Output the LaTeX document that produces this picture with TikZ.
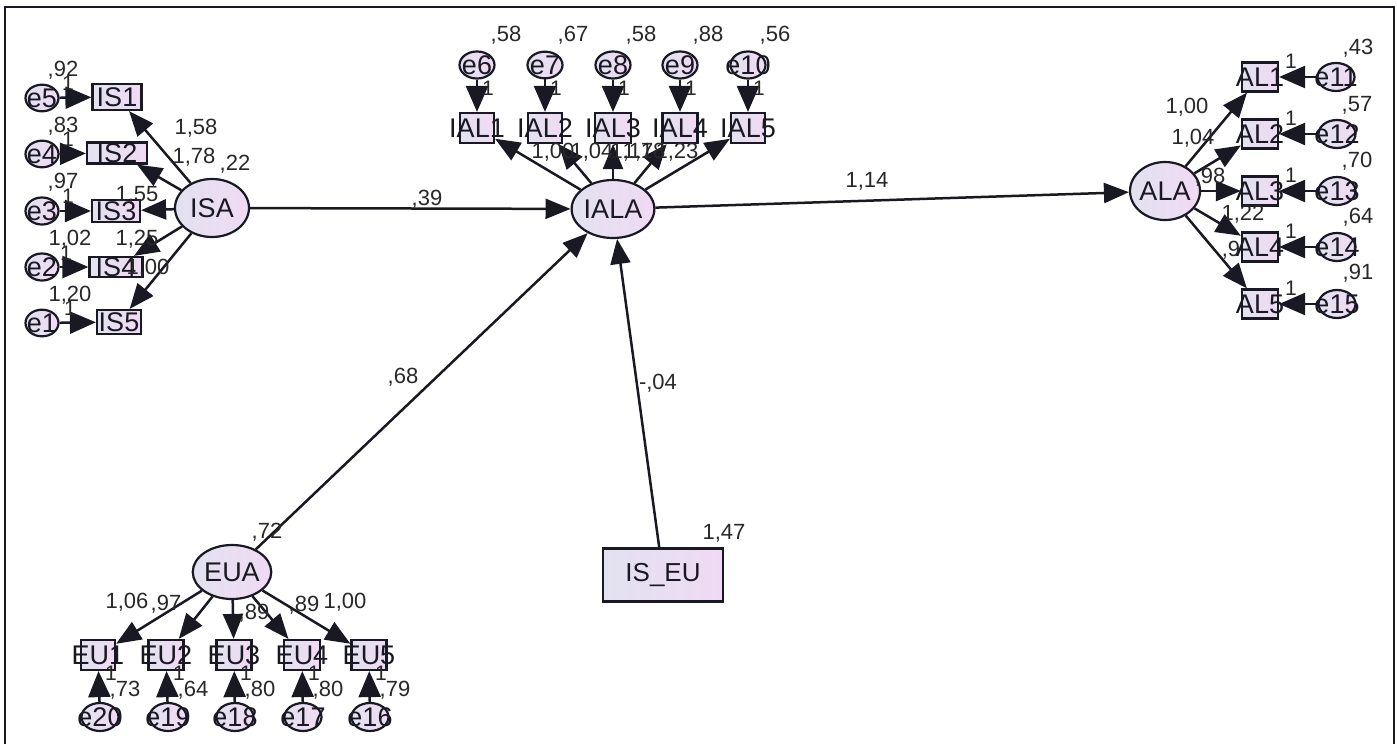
\documentclass[tikz,border=0pt]{standalone}
\usepackage{fontspec}
\setmainfont{Liberation Sans}
\usetikzlibrary{shapes.geometric,arrows.meta}
\definecolor{lavL}{RGB}{226,226,240}
\definecolor{lavR}{RGB}{240,218,243}
\definecolor{lbl}{RGB}{40,40,40}
\definecolor{ink}{RGB}{25,25,35}
\newcommand{\ov}[1]{\makebox[0pt]{#1}}
\begin{document}
\begin{tikzpicture}[x=1pt,y=-1pt,
  lat/.style={ellipse,draw=ink,line width=2.2pt,inner sep=0pt,left color=lavL,right color=lavR,text=ink,font=\fontsize{27}{29}\selectfont},
  errv/.style={ellipse,draw=ink,line width=2.2pt,inner sep=0pt,minimum width=33pt,minimum height=26pt,left color=lavL,right color=lavR,text=ink,font=\fontsize{27}{28}\selectfont},
  obs/.style={rectangle,draw=ink,line width=2.2pt,inner sep=0pt,left color=lavL,right color=lavR,text=ink,font=\fontsize{27}{29}\selectfont},
  conn/.style={draw=ink,line width=2.5pt,-{Triangle[length=25pt,width=20pt]}},
  errarr/.style={draw=ink,line width=2.5pt,-{Triangle[length=26pt,width=22pt]}},
  lab/.style={text=lbl,inner sep=0pt,font=\fontsize{22}{24}\selectfont},
  one/.style={text=lbl,inner sep=0pt,font=\fontsize{21}{23}\selectfont}
]
\useasboundingbox (0,0) rectangle (1397,744);
\draw[line width=2.8pt,ink] (5,744) -- (5,7) -- (1394,7) -- (1394,744);

% ---------- latent variables ----------
\node[lat,minimum width=74pt,minimum height=58pt] (ISA) at (212,208) {ISA};
\node[lat,minimum width=72pt,minimum height=58pt] (IALA) at (613,209) {IALA};
\node[lat,minimum width=70pt,minimum height=58pt] (ALA) at (1165,191) {\ov{ALA}};
\node[lat,minimum width=70pt,minimum height=54pt] (EUA) at (232,572) {EUA};
\node[obs,minimum width=120pt,minimum height=53pt,font=\fontsize{26}{28}\selectfont] (ISEU) at (663,575) {IS\_EU};

% ---------- ISA indicators ----------
\node[obs,minimum width=49pt,minimum height=26pt] (IS1) at (117,97) {\ov{IS1}};
\node[obs,minimum width=60pt,minimum height=21pt] (IS2) at (117,153) {\ov{IS2}};
\node[obs,minimum width=48pt,minimum height=22pt] (IS3) at (116,211) {\ov{IS3}};
\node[obs,minimum width=53pt,minimum height=20pt] (IS4) at (116,267) {\ov{IS4}};
\node[obs,minimum width=44pt,minimum height=24pt] (IS5) at (119,322) {\ov{IS5}};
\node[errv] (e5) at (42,98) {\ov{e5}};
\node[errv] (e4) at (42,154) {\ov{e4}};
\node[errv] (e3) at (42,211) {\ov{e3}};
\node[errv] (e2) at (42,267) {\ov{e2}};
\node[errv] (e1) at (42,323) {\ov{e1}};

% ---------- IALA indicators ----------
\node[obs,minimum width=34pt,minimum height=30pt] (IAL1) at (477,128) {\ov{IAL1}};
\node[obs,minimum width=34pt,minimum height=30pt] (IAL2) at (545,128) {\ov{IAL2}};
\node[obs,minimum width=36pt,minimum height=30pt] (IAL3) at (613,128) {\ov{IAL3}};
\node[obs,minimum width=35pt,minimum height=30pt] (IAL4) at (680,128) {\ov{IAL4}};
\node[obs,minimum width=34pt,minimum height=30pt] (IAL5) at (748,128) {\ov{IAL5}};
\node[errv,minimum width=35pt] (e6) at (477,65) {\ov{e6}};
\node[errv,minimum width=35pt] (e7) at (545,65) {\ov{e7}};
\node[errv,minimum width=35pt] (e8) at (613,65) {\ov{e8}};
\node[errv,minimum width=35pt] (e9) at (680,65) {\ov{e9}};
\node[errv,minimum width=35pt] (e10) at (748,65) {\ov{e10}};

% ---------- ALA indicators ----------
\node[obs,minimum width=36pt,minimum height=29pt] (AL1) at (1260,77) {\ov{AL1}};
\node[obs,minimum width=36pt,minimum height=29pt] (AL2) at (1260,134) {\ov{AL2}};
\node[obs,minimum width=36pt,minimum height=29pt] (AL3) at (1260,191) {\ov{AL3}};
\node[obs,minimum width=36pt,minimum height=29pt] (AL4) at (1260,247) {\ov{AL4}};
\node[obs,minimum width=36pt,minimum height=29pt] (AL5) at (1260,304) {\ov{AL5}};
\node[errv,minimum width=37pt,minimum height=28pt] (e11) at (1336,77) {\ov{e11}};
\node[errv,minimum width=37pt,minimum height=28pt] (e12) at (1337,134) {\ov{e12}};
\node[errv,minimum width=37pt,minimum height=28pt] (e13) at (1337,191) {\ov{e13}};
\node[errv,minimum width=37pt,minimum height=28pt] (e14) at (1337,247) {\ov{e14}};
\node[errv,minimum width=37pt,minimum height=28pt] (e15) at (1337,304) {\ov{e15}};

% ---------- EUA indicators ----------
\node[obs,minimum width=34pt,minimum height=30pt] (EU1) at (98,655) {\ov{EU1}};
\node[obs,minimum width=35pt,minimum height=30pt] (EU2) at (166,655) {\ov{EU2}};
\node[obs,minimum width=35pt,minimum height=30pt] (EU3) at (234,655) {\ov{EU3}};
\node[obs,minimum width=36pt,minimum height=30pt] (EU4) at (302,655) {\ov{EU4}};
\node[obs,minimum width=35pt,minimum height=30pt] (EU5) at (369,655) {\ov{EU5}};
\node[errv,minimum width=37pt,minimum height=28pt] (e20) at (100,717) {\ov{e20}};
\node[errv,minimum width=37pt,minimum height=28pt] (e19) at (168,717) {\ov{e19}};
\node[errv,minimum width=37pt,minimum height=28pt] (e18) at (235,717) {\ov{e18}};
\node[errv,minimum width=37pt,minimum height=28pt] (e17) at (303,717) {\ov{e17}};
\node[errv,minimum width=37pt,minimum height=28pt] (e16) at (370,717) {\ov{e16}};

% ---------- structural paths ----------
\draw[conn] (ISA) -- (IALA);
\draw[conn] (IALA) -- (ALA);
\draw[conn] (EUA) -- (IALA);
\draw[conn] (ISEU) -- (IALA);

% ---------- loadings ----------
\foreach \t in {IS1,IS2,IS3,IS4,IS5} \draw[conn] (ISA) -- (\t);
\foreach \t in {IAL1,IAL2,IAL3,IAL4,IAL5} \draw[conn] (IALA) -- (\t);
\foreach \t in {AL1,AL2,AL3,AL4,AL5} \draw[conn] (ALA) -- (\t);
\foreach \t in {EU1,EU2,EU3,EU4,EU5} \draw[conn] (EUA) -- (\t);

% ---------- error paths ----------
\draw[errarr] (e5) -- (IS1);
\draw[errarr] (e4) -- (IS2);
\draw[errarr] (e3) -- (IS3);
\draw[errarr] (e2) -- (IS4);
\draw[errarr] (e1) -- (IS5);
\draw[errarr] (e6) -- (IAL1);
\draw[errarr] (e7) -- (IAL2);
\draw[errarr] (e8) -- (IAL3);
\draw[errarr] (e9) -- (IAL4);
\draw[errarr] (e10) -- (IAL5);
\draw[errarr] (e11) -- (AL1);
\draw[errarr] (e12) -- (AL2);
\draw[errarr] (e13) -- (AL3);
\draw[errarr] (e14) -- (AL4);
\draw[errarr] (e15) -- (AL5);
\draw[errarr] (e20) -- (EU1);
\draw[errarr] (e19) -- (EU2);
\draw[errarr] (e18) -- (EU3);
\draw[errarr] (e17) -- (EU4);
\draw[errarr] (e16) -- (EU5);

% ---------- labels: left ----------
\node[lab] (v5) at (63,70) {,92};  \node[one] (o5) at (68,83) {1};
\node[lab] (v4) at (63,126) {,83}; \node[one] (o4) at (68,139) {1};
\node[lab] (v3) at (63,182) {,97}; \node[one] (o3) at (68,196) {1};
\node[lab] (v2) at (70,239) {1,02}; \node[one] (o2) at (66,253) {1};
\node[lab] (v1) at (70,295) {1,20}; \node[one] (o1) at (70,308) {1};
\node[lab] (l1) at (196,128) {1,58};
\node[lab] (l2) at (194,157) {1,78};
\node[lab] (vISA) at (235,164) {,22};
\node[lab] (l3) at (137,195) {1,55};
\node[lab] (l4) at (137,239) {1,25};
\node[lab] (l5) at (148,268) {1,00};

% ---------- labels: top ----------
\node[lab] (v6) at (506,35) {,58};
\node[lab] (v7) at (573,35) {,67};
\node[lab] (v8) at (641,35) {,58};
\node[lab] (v9) at (708,35) {,88};
\node[lab] (v10) at (775,35) {,56};
\foreach \x/\n in {488/a,556/b,624/c,691/d,759/e} \node[one] (o\n) at (\x,88) {1};
\node[lab] (m1) at (553,152) {1,00};
\node[lab] (m2) at (592,152) {1,04};
\node[lab] (m3) at (632,152) {1,17};
\node[lab] (m4) at (644,152) {1,18};
\node[lab] (m5) at (677,152) {1,23};

% ---------- labels: right ----------
\node[lab] (v11) at (1358,48) {,43};
\node[lab] (v12) at (1357,105) {,57};
\node[lab] (v13) at (1357,161) {,70};
\node[lab] (v14) at (1358,217) {,64};
\node[lab] (v15) at (1358,273) {,91};
\foreach \y/\n in {61/f,118/g,175/h,231/i,288/j} \node[one] (o\n) at (1291,\y) {1};
\node[lab] (r1) at (1187,107) {1,00};
\node[lab] (r2) at (1193,138) {1,04};
\node[lab] (r3) at (1210,177) {,98};
\node[lab] (r4) at (1243,214) {1,22};
\node[lab] (r5) at (1231,250) {,9};

% ---------- labels: bottom ----------
\node[lab] (vEUA) at (267,532) {,72};
\node[lab] (b1) at (127,602) {1,06};
\node[lab] (b2) at (166,604) {,97};
\node[lab] (b3) at (254,613) {,89};
\node[lab] (b4) at (304,605) {,89};
\node[lab] (b5) at (345,602) {1,00};
\foreach \x/\n in {111/k,179/l,246/m,314/n,381/p} \node[one] (o\n) at (\x,673) {1};
\node[lab] (v20) at (125,690) {,73};
\node[lab] (v19) at (193,690) {,64};
\node[lab] (v18) at (260,690) {,80};
\node[lab] (v17) at (328,690) {,80};
\node[lab] (v16) at (395,690) {,79};

% ---------- labels: structural ----------
\node[lab] (s1) at (427,199) {,39};
\node[lab] (s2) at (867,181) {1,14};
\node[lab] (s3) at (403,377) {,68};
\node[lab] (s4) at (658,383) {-,04};
\node[lab] (s5) at (724,533) {1,47};
\end{tikzpicture}
\end{document}
